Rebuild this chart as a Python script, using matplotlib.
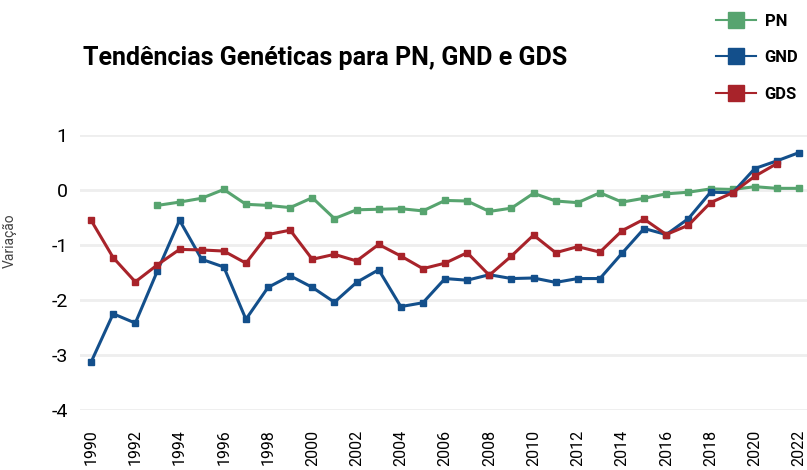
import numpy as np
import matplotlib.pyplot as plt
from matplotlib.lines import Line2D

# dados
years = list(range(1990, 2023))
pn_years = list(range(1993, 2023))
pn = [-0.28, -0.22, -0.15, 0.01, -0.26, -0.28, -0.32, -0.14, -0.52, -0.36,
      -0.35, -0.34, -0.38, -0.19, -0.20, -0.39, -0.33, -0.06, -0.20, -0.23,
      -0.05, -0.22, -0.15, -0.07, -0.04, 0.02, 0.01, 0.06, 0.03, 0.03]
gnd = [-3.13, -2.25, -2.42, -1.47, -0.55, -1.26, -1.40, -2.35, -1.77, -1.56,
       -1.77, -2.04, -1.68, -1.45, -2.12, -2.05, -1.61, -1.64, -1.54, -1.61,
       -1.60, -1.68, -1.61, -1.61, -1.15, -0.70, -0.81, -0.52, -0.04, -0.05,
       0.39, 0.53, 0.68]
gds_years = list(range(1990, 2022))
gds = [-0.55, -1.23, -1.67, -1.36, -1.08, -1.09, -1.11, -1.33, -0.81, -0.73,
       -1.26, -1.17, -1.29, -0.99, -1.20, -1.43, -1.33, -1.14, -1.55, -1.20,
       -0.82, -1.14, -1.03, -1.13, -0.74, -0.53, -0.81, -0.64, -0.23, -0.05,
       0.25, 0.48]
xtick_years = list(range(1990, 2023, 2))
ytick_vals = [1, 0, -1, -2, -3, -4]

c_pn = "#57a46f"
c_gnd = "#134f8b"
c_gds = "#a8232a"

fig = plt.figure(figsize=(8.07, 4.70), dpi=100)
ax = fig.add_axes([80 / 807, 60 / 470, 727 / 807, 275 / 470])

ax.plot(pn_years, pn, color=c_pn, lw=2.2, marker="s", ms=4, zorder=3)
ax.plot(years, gnd, color=c_gnd, lw=2.2, marker="s", ms=4, zorder=3)
ax.plot(gds_years, gds, color=c_gds, lw=2.2, marker="s", ms=4, zorder=3)

ax.set_xlim(1989.5, 2022.36)
ax.set_ylim(-4, 1)
ax.set_yticks(ytick_vals)
ax.set_yticklabels([str(v) for v in ytick_vals], family="Roboto", fontsize=14)
ax.set_xticks(xtick_years)
ax.set_xticklabels([str(y) for y in xtick_years], rotation=90,
                   family="Roboto", fontsize=11.5)
ax.tick_params(axis="x", length=0, pad=14)
ax.tick_params(axis="y", length=0, pad=9)
for s in ax.spines.values():
    s.set_visible(False)
ax.grid(axis="y", color="#eeeeee", lw=2)
ax.set_axisbelow(True)
ax.set_ylabel("Variação", fontsize=10, color="#444444", family="Roboto")
ax.yaxis.set_label_coords(-0.087, 0.615)

fig.text(83 / 807, 1 - 58 / 470, "Tendências Genéticas para PN, GND e GDS",
         fontsize=18, fontweight="bold", family="Roboto", va="center")

handles = [
    Line2D([], [], color=c_pn, lw=1.5, marker="s", ms=11),
    Line2D([], [], color=c_gnd, lw=1.5, marker="s", ms=11),
    Line2D([], [], color=c_gds, lw=1.5, marker="s", ms=11),
]
fig.legend(handles, ["PN", "GND", "GDS"], loc="upper right",
           bbox_to_anchor=(1.008, 1.003), frameon=False, handlelength=2.4,
           handletextpad=0.5, labelspacing=1.3,
           prop={"family": "Roboto", "weight": "bold", "size": 12})

fig.savefig("out.png", dpi=100)
